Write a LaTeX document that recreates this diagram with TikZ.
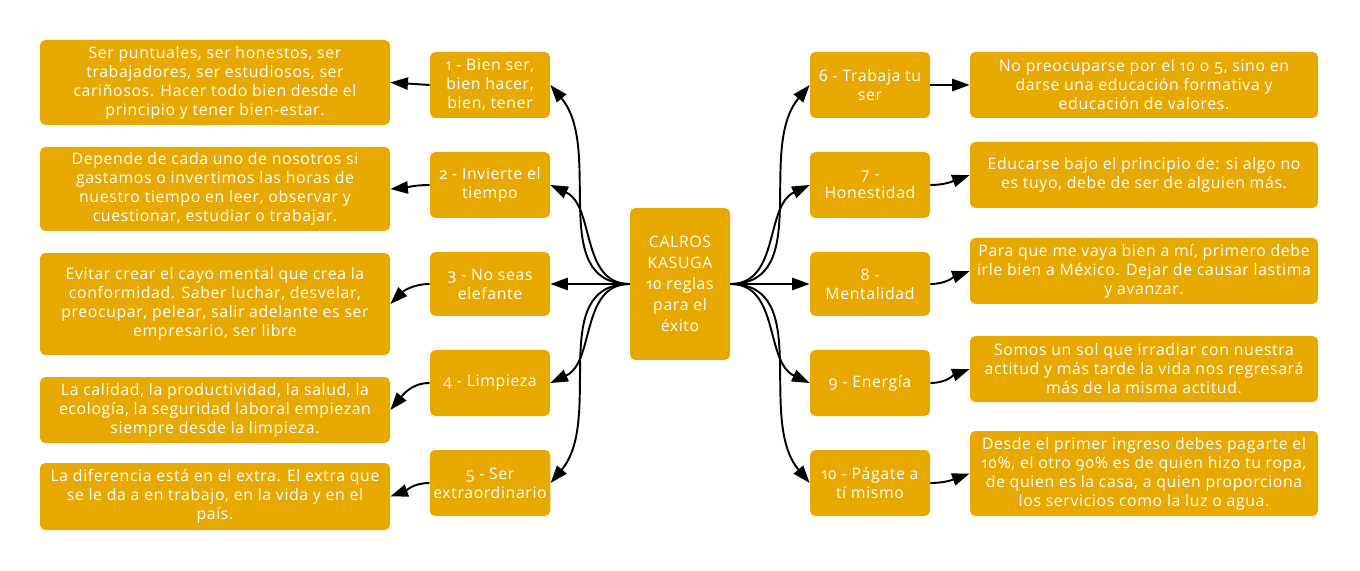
\documentclass[tikz,border=0pt]{standalone}
\usepackage{fontspec}
\setmainfont{Open Sans}[Numbers=OldStyle, LetterSpace=4]
\usepackage{xcolor}
\usetikzlibrary{arrows.meta}
\definecolor{gold}{RGB}{231,169,0}

\begin{document}
\begin{tikzpicture}[
    box/.style={fill=gold, rounded corners=3pt, align=center, text=white,
                font=\fontsize{9}{10.8}\selectfont, inner sep=2pt},
    hub/.style={box, minimum width=20mm, minimum height=30.4mm,
                font=\fontsize{9}{12}\selectfont},
    rule/.style={box, minimum width=24mm, minimum height=13.2mm},
    note/.style={box, minimum width=70mm},
    flow/.style={-{Triangle[length=10pt,width=7pt]}, line width=1.1pt},
]
\useasboundingbox (0,0) rectangle (27.2,11.4);
\node[hub] (ctr) at (13.6,5.72) {CALROS\\ KASUGA\\ 10 reglas\\ para el\\ éxito};
\node[rule] (r1) at (9.8,9.7) {1 - Bien ser,\\ bien hacer,\\ bien, tener};
\node[rule] (r2) at (9.8,7.7) {2 - Invierte el\\ tiempo};
\node[rule, minimum height=12.8mm] (r3) at (9.8,5.72) {3 - No seas\\ elefante};
\node[rule] (r4) at (9.8,3.74) {4 - Limpieza};
\node[rule] (r5) at (9.8,1.74) {5 - Ser\\ extraordinario};
\node[rule] (r6) at (17.4,9.7) {6 - Trabaja tu\\ ser};
\node[rule] (r7) at (17.4,7.7) {7 -\\ Honestidad};
\node[rule, minimum height=12.8mm] (r8) at (17.4,5.72) {8 -\\ Mentalidad};
\node[rule] (r9) at (17.4,3.74) {9 - Energía};
\node[rule] (r10) at (17.4,1.74) {10 - Págate a\\ tí mismo};
\node[note, minimum height=17mm] (n1) at (4.3,9.75)
   {Ser puntuales, ser honestos, ser\\ trabajadores, ser estudiosos, ser\\
    cariñosos. Hacer todo bien desde el\\ principio y tener bien-estar.};
\node[note, minimum height=16.8mm] (n2) at (4.3,7.62)
   {Depende de cada uno de nosotros si\\ gastamos o invertimos las horas de\\
    nuestro tiempo en leer, observar y\\ cuestionar, estudiar o trabajar.};
\node[note, minimum height=20.4mm] (n3) at (4.3,5.32)
   {Evitar crear el cayo mental que crea la\\ conformidad. Saber luchar, desvelar,\\
    preocupar, pelear, salir adelante es ser\\ empresario, ser libre};
\node[note, minimum height=13.2mm] (n4) at (4.3,3.2)
   {La calidad, la productividad, la salud, la\\ ecología, la seguridad laboral empiezan\\
    siempre desde la limpieza.};
\node[note, minimum height=13.4mm] (n5) at (4.3,1.47)
   {La diferencia está en el extra. El extra que\\ se le da a en trabajo, en la vida y en el\\ país.};
\node[note, minimum width=69.6mm, minimum height=13.2mm] (n6) at (22.88,9.7)
   {No preocuparse por el 10 o 5, sino en\\ darse una educación formativa y\\ educación de valores.};
\node[note, minimum width=69.6mm, minimum height=13.2mm] (n7) at (22.88,7.9)
   {Educarse bajo el principio de: si algo no\\ es tuyo, debe de ser de alguien más.};
\node[note, minimum width=69.6mm, minimum height=13.2mm] (n8) at (22.88,5.98)
   {Para que me vaya bien a mí, primero debe\\ irle bien a México. Dejar de causar lastima\\ y avanzar.};
\node[note, minimum width=69.6mm, minimum height=13.2mm] (n9) at (22.88,4.02)
   {Somos un sol que irradiar con nuestra\\ actitud y más tarde la vida nos regresará\\ más de la misma actitud.};
\node[note, minimum width=69.6mm, minimum height=17mm] (n10) at (22.88,1.93)
   {Desde el primer ingreso debes pagarte el\\ 10\%, el otro 90\% es de quien hizo tu ropa,\\
    de quien es la casa, a quien proporciona\\ los servicios como la luz o agua.};
\draw[flow] (ctr.west) to[out=180, in=-50] (r1.east);
\draw[flow] (ctr.west) to[out=180, in=-25] (r2.east);
\draw[flow] (ctr.west) -- (r3.east);
\draw[flow] (ctr.west) to[out=180, in=25] (r4.east);
\draw[flow] (ctr.west) to[out=180, in=50] (r5.east);
\draw[flow] (ctr.east) to[out=0, in=230] (r6.west);
\draw[flow] (ctr.east) to[out=0, in=205] (r7.west);
\draw[flow] (ctr.east) -- (r8.west);
\draw[flow] (ctr.east) to[out=0, in=155] (r9.west);
\draw[flow] (ctr.east) to[out=0, in=130] (r10.west);
\draw[flow] (r1.west) -- (n1.east);
\draw[flow] (r2.west) to[out=180, in=5] (n2.east);
\draw[flow] (r3.west) to[out=180, in=45] (n3.east);
\draw[flow] (r4.west) to[out=180, in=50] (n4.east);
\draw[flow] (r5.west) to[out=180, in=20] (n5.east);
\draw[flow] (r6.east) -- (n6.west);
\draw[flow] (r7.east) to[out=0, in=200] (n7.west);
\draw[flow] (r8.east) to[out=0, in=200] (n8.west);
\draw[flow] (r9.east) to[out=0, in=200] (n9.west);
\draw[flow] (r10.east) to[out=0, in=200] (n10.west);
\end{tikzpicture}
\end{document}
